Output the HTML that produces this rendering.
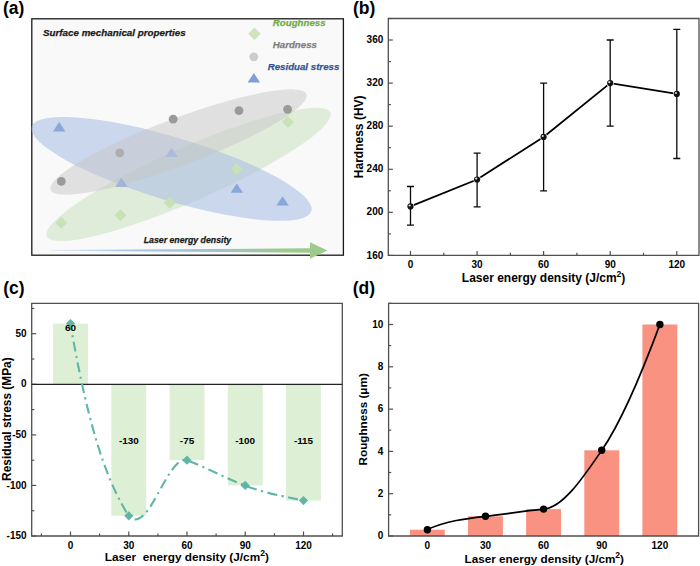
<!DOCTYPE html><html><head><meta charset="utf-8"><style>
html,body{margin:0;padding:0;background:#fff;width:700px;height:566px;overflow:hidden}
svg{display:block}
text{font-family:"Liberation Sans",sans-serif;font-weight:bold}
</style></head><body>
<svg width="700" height="566" viewBox="0 0 700 566">
<text x="3" y="14.3" font-size="17.5">(a)</text>
<text x="353" y="14.3" font-size="17.5">(b)</text>
<text x="3.2" y="294" font-size="17.5">(c)</text>
<text x="352.8" y="294" font-size="17.5">(d)</text>
<defs><linearGradient id="arrg" gradientUnits="userSpaceOnUse" x1="50" x2="327" y1="0" y2="0"><stop offset="0" stop-color="#dfe8f2"/><stop offset="0.3" stop-color="#a9c4e3"/><stop offset="0.55" stop-color="#9fc1d3"/><stop offset="0.85" stop-color="#9ccb8e"/><stop offset="1" stop-color="#9dcb8c"/></linearGradient></defs>
<rect x="31.8" y="18.8" width="311.6" height="236.4" fill="#f9f9f9" stroke="#1a1a1a" stroke-width="1.3"/>
<ellipse cx="188.5" cy="174.4" rx="154.7" ry="27" transform="rotate(-23.6 188.5 174.4)" fill="#c7dfbb" fill-opacity="0.5"/>
<ellipse cx="171.6" cy="168.9" rx="146" ry="31.6" transform="rotate(16.8 171.6 168.9)" fill="#abbfe2" fill-opacity="0.6"/>
<ellipse cx="178.5" cy="142" rx="136.6" ry="23.5" transform="rotate(-20.5 178.5 142)" fill="#c8c8c8" fill-opacity="0.5"/>
<circle cx="61.3" cy="181.4" r="4.4" fill="#9a9a9a"/>
<circle cx="119.7" cy="152.8" r="4.4" fill="#b0aeaa"/>
<circle cx="173.2" cy="119.2" r="4.4" fill="#9a9a9a"/>
<circle cx="239" cy="110.6" r="4.4" fill="#9a9a9a"/>
<circle cx="287.6" cy="109.3" r="4.4" fill="#9a9a9a"/>
<path d="M61.3,216.8 L67.3,222.8 L61.3,228.8 L55.3,222.8 Z" fill="#c8e1b7"/>
<path d="M120.5,209.2 L126.5,215.2 L120.5,221.2 L114.5,215.2 Z" fill="#c8e1b7"/>
<path d="M169.7,196.7 L175.7,202.7 L169.7,208.7 L163.7,202.7 Z" fill="#c8e1b7"/>
<path d="M236.7,163 L242.7,169 L236.7,175 L230.7,169 Z" fill="#c8e1b7"/>
<path d="M287.9,116 L293.9,122 L287.9,128 L281.9,122 Z" fill="#c8e1b7"/>
<path d="M53.0,131.5 L65.4,131.5 L59.2,122.1 Z" fill="#8aa6da"/>
<path d="M115.2,186.9 L127.6,186.9 L121.4,177.5 Z" fill="#a3b4d8"/>
<path d="M165.4,157.1 L177.8,157.1 L171.6,147.7 Z" fill="#aebcdc"/>
<path d="M230.6,192.8 L243.0,192.8 L236.8,183.4 Z" fill="#8aa6da"/>
<path d="M276.4,205.6 L288.8,205.6 L282.6,196.2 Z" fill="#8aa6da"/>
<path d="M254.5,27.599999999999998 L260.7,33.8 L254.5,40.0 L248.3,33.8 Z" fill="#cde4bf"/>
<circle cx="253.8" cy="56.8" r="4.4" fill="#cccccc"/>
<path d="M247.6,82.5 L260.1,82.5 L253.8,73.0 Z" fill="#7f9fd6"/>
<text x="43" y="36.4" font-size="9.8" font-style="italic" fill="#1a1a1a" stroke="#1a1a1a" stroke-width="0.25">Surface mechanical properties</text>
<text x="272.8" y="25.8" font-size="9.7" font-style="italic" fill="#70ad47" stroke="#70ad47" stroke-width="0.25">Roughness</text>
<text x="272.8" y="48.2" font-size="9.7" font-style="italic" fill="#7f7f7f" stroke="#7f7f7f" stroke-width="0.25">Hardness</text>
<text x="267.7" y="70.2" font-size="9.7" font-style="italic" fill="#2f5597" stroke="#2f5597" stroke-width="0.25">Residual stress</text>
<text x="143.7" y="242.6" font-size="8.75" font-style="italic" fill="#1a1a1a" stroke="#1a1a1a" stroke-width="0.25">Laser energy density</text>
<path d="M50,249.9 L50,250.7 L310,252.7 L310,258.7 L327.5,250.5 L310,242.3 L310,248.3 Z" fill="url(#arrg)"/>
<path d="M388.3,18.5 H699.0 V255.4 H388.3 Z" fill="none" stroke="#505050" stroke-width="1.3"/>
<path d="M410.5,255.4 v-4.5" stroke="#505050" stroke-width="1.2"/>
<text x="410.5" y="268.2" font-size="10" text-anchor="middle">0</text>
<path d="M477.1,255.4 v-4.5" stroke="#505050" stroke-width="1.2"/>
<text x="477.1" y="268.2" font-size="10" text-anchor="middle">30</text>
<path d="M543.6,255.4 v-4.5" stroke="#505050" stroke-width="1.2"/>
<text x="543.6" y="268.2" font-size="10" text-anchor="middle">60</text>
<path d="M610.2,255.4 v-4.5" stroke="#505050" stroke-width="1.2"/>
<text x="610.2" y="268.2" font-size="10" text-anchor="middle">90</text>
<path d="M676.8,255.4 v-4.5" stroke="#505050" stroke-width="1.2"/>
<text x="676.8" y="268.2" font-size="10" text-anchor="middle">120</text>
<path d="M443.8,255.4 v-2.6" stroke="#505050" stroke-width="1.2"/>
<path d="M510.4,255.4 v-2.6" stroke="#505050" stroke-width="1.2"/>
<path d="M576.9,255.4 v-2.6" stroke="#505050" stroke-width="1.2"/>
<path d="M643.5,255.4 v-2.6" stroke="#505050" stroke-width="1.2"/>
<path d="M388.3,255.4 h4.5" stroke="#505050" stroke-width="1.2"/>
<text x="383.3" y="258.5" font-size="10" text-anchor="end">160</text>
<path d="M388.3,212.3 h4.5" stroke="#505050" stroke-width="1.2"/>
<text x="383.3" y="215.4" font-size="10" text-anchor="end">200</text>
<path d="M388.3,169.3 h4.5" stroke="#505050" stroke-width="1.2"/>
<text x="383.3" y="172.4" font-size="10" text-anchor="end">240</text>
<path d="M388.3,126.2 h4.5" stroke="#505050" stroke-width="1.2"/>
<text x="383.3" y="129.3" font-size="10" text-anchor="end">280</text>
<path d="M388.3,83.1 h4.5" stroke="#505050" stroke-width="1.2"/>
<text x="383.3" y="86.2" font-size="10" text-anchor="end">320</text>
<path d="M388.3,40.0 h4.5" stroke="#505050" stroke-width="1.2"/>
<text x="383.3" y="43.1" font-size="10" text-anchor="end">360</text>
<path d="M388.3,233.9 h2.6" stroke="#505050" stroke-width="1.2"/>
<path d="M388.3,190.8 h2.6" stroke="#505050" stroke-width="1.2"/>
<path d="M388.3,147.7 h2.6" stroke="#505050" stroke-width="1.2"/>
<path d="M388.3,104.6 h2.6" stroke="#505050" stroke-width="1.2"/>
<path d="M388.3,61.6 h2.6" stroke="#505050" stroke-width="1.2"/>
<path d="M388.3,18.5 h2.6" stroke="#505050" stroke-width="1.2"/>
<polyline points="410.5,206.4 477.1,179.5 543.6,136.9 610.2,83.1 676.8,93.9" fill="none" stroke="#000" stroke-width="1.8"/>
<circle cx="410.5" cy="206.4" r="3.7" fill="#fff"/>
<circle cx="477.1" cy="179.5" r="3.7" fill="#fff"/>
<circle cx="543.6" cy="136.9" r="3.7" fill="#fff"/>
<circle cx="610.2" cy="83.1" r="3.7" fill="#fff"/>
<circle cx="676.8" cy="93.9" r="3.7" fill="#fff"/>
<path d="M410.5,225.2 V186.5 M407.0,225.2 h7 M407.0,186.5 h7" stroke="#0a0a0a" stroke-width="1.3" fill="none"/>
<path d="M477.1,206.9 V153.1 M473.6,206.9 h7 M473.6,153.1 h7" stroke="#0a0a0a" stroke-width="1.3" fill="none"/>
<path d="M543.6,190.8 V83.1 M540.1,190.8 h7 M540.1,83.1 h7" stroke="#0a0a0a" stroke-width="1.3" fill="none"/>
<path d="M610.2,126.2 V40.0 M606.7,126.2 h7 M606.7,40.0 h7" stroke="#0a0a0a" stroke-width="1.3" fill="none"/>
<path d="M676.8,158.5 V29.3 M673.3,158.5 h7 M673.3,29.3 h7" stroke="#0a0a0a" stroke-width="1.3" fill="none"/>
<circle cx="410.5" cy="206.4" r="3.1" fill="#111"/><circle cx="409.6" cy="205.5" r="1.1" fill="#ddd"/>
<circle cx="477.1" cy="179.5" r="3.1" fill="#111"/><circle cx="476.2" cy="178.6" r="1.1" fill="#ddd"/>
<circle cx="543.6" cy="136.9" r="3.1" fill="#111"/><circle cx="542.8" cy="136.0" r="1.1" fill="#ddd"/>
<circle cx="610.2" cy="83.1" r="3.1" fill="#111"/><circle cx="609.3" cy="82.2" r="1.1" fill="#ddd"/>
<circle cx="676.8" cy="93.9" r="3.1" fill="#111"/><circle cx="675.9" cy="93.0" r="1.1" fill="#ddd"/>
<text x="543.6" y="282.4" font-size="12" text-anchor="middle">Laser energy density (J/cm<tspan font-size="8.6" dy="-5.3">2</tspan><tspan dy="5.3">)</tspan></text>
<text transform="translate(362.5,136.8) rotate(-90)" font-size="12" text-anchor="middle">Hardness (HV)</text>
<path d="M31.7,303.4 H342.3 V536.0 H31.7 Z" fill="none" stroke="#505050" stroke-width="1.3"/>
<rect x="53.1" y="323.6" width="34.9" height="60.7" fill="#ddf0d5"/>
<rect x="111.3" y="384.3" width="34.9" height="131.5" fill="#ddf0d5"/>
<rect x="169.6" y="384.3" width="34.9" height="75.8" fill="#ddf0d5"/>
<rect x="227.8" y="384.3" width="34.9" height="101.1" fill="#ddf0d5"/>
<rect x="286.0" y="384.3" width="34.9" height="116.3" fill="#ddf0d5"/>
<path d="M70.5,536.0 v-4.5" stroke="#505050" stroke-width="1.2"/>
<text x="70.5" y="548.6" font-size="10" text-anchor="middle">0</text>
<path d="M128.8,536.0 v-4.5" stroke="#505050" stroke-width="1.2"/>
<text x="128.8" y="548.6" font-size="10" text-anchor="middle">30</text>
<path d="M187.0,536.0 v-4.5" stroke="#505050" stroke-width="1.2"/>
<text x="187.0" y="548.6" font-size="10" text-anchor="middle">60</text>
<path d="M245.2,536.0 v-4.5" stroke="#505050" stroke-width="1.2"/>
<text x="245.2" y="548.6" font-size="10" text-anchor="middle">90</text>
<path d="M303.5,536.0 v-4.5" stroke="#505050" stroke-width="1.2"/>
<text x="303.5" y="548.6" font-size="10" text-anchor="middle">120</text>
<path d="M41.4,536.0 v-2.6" stroke="#505050" stroke-width="1.2"/>
<path d="M99.6,536.0 v-2.6" stroke="#505050" stroke-width="1.2"/>
<path d="M157.9,536.0 v-2.6" stroke="#505050" stroke-width="1.2"/>
<path d="M216.1,536.0 v-2.6" stroke="#505050" stroke-width="1.2"/>
<path d="M274.4,536.0 v-2.6" stroke="#505050" stroke-width="1.2"/>
<path d="M332.6,536.0 v-2.6" stroke="#505050" stroke-width="1.2"/>
<path d="M31.7,536.0 h4.5" stroke="#505050" stroke-width="1.2"/>
<text x="26.6" y="539.1" font-size="10" text-anchor="end">-150</text>
<path d="M31.7,485.4 h4.5" stroke="#505050" stroke-width="1.2"/>
<text x="26.6" y="488.5" font-size="10" text-anchor="end">-100</text>
<path d="M31.7,434.9 h4.5" stroke="#505050" stroke-width="1.2"/>
<text x="26.6" y="438.0" font-size="10" text-anchor="end">-50</text>
<path d="M31.7,384.3 h4.5" stroke="#505050" stroke-width="1.2"/>
<text x="26.6" y="387.4" font-size="10" text-anchor="end">0</text>
<path d="M31.7,333.7 h4.5" stroke="#505050" stroke-width="1.2"/>
<text x="26.6" y="336.8" font-size="10" text-anchor="end">50</text>
<path d="M31.7,510.7 h2.6" stroke="#505050" stroke-width="1.2"/>
<path d="M31.7,460.2 h2.6" stroke="#505050" stroke-width="1.2"/>
<path d="M31.7,409.6 h2.6" stroke="#505050" stroke-width="1.2"/>
<path d="M31.7,359.0 h2.6" stroke="#505050" stroke-width="1.2"/>
<path d="M31.7,308.5 h2.6" stroke="#505050" stroke-width="1.2"/>
<path d="M31.7,384.3 H342.3" stroke="#222" stroke-width="1.3"/>
<path d="M70.4,323.6 C89.8,437.1 109.2,484.6 128.6,515.8 C148.0,537.7 167.4,454.4 186.8,460.2 C206.2,467.5 225.6,478.1 245.0,485.6 C264.4,493.1 283.8,496.1 303.2,500.6" fill="none" stroke="#5fb6a6" stroke-width="2.1" stroke-dasharray="10 4.5 2.2 4.5" stroke-dashoffset="3"/>
<path d="M70.5,319.0 l4.6,4.6 l-4.6,4.6 l-4.6,-4.6 Z" fill="#5fb6a6"/>
<path d="M128.8,511.2 l4.6,4.6 l-4.6,4.6 l-4.6,-4.6 Z" fill="#5fb6a6"/>
<path d="M187.0,455.6 l4.6,4.6 l-4.6,4.6 l-4.6,-4.6 Z" fill="#5fb6a6"/>
<path d="M245.2,480.8 l4.6,4.6 l-4.6,4.6 l-4.6,-4.6 Z" fill="#5fb6a6"/>
<path d="M303.5,496.0 l4.6,4.6 l-4.6,4.6 l-4.6,-4.6 Z" fill="#5fb6a6"/>
<text x="70.5" y="331" font-size="9.9" text-anchor="middle">60</text>
<text x="128.8" y="444.3" font-size="9.9" text-anchor="middle">-130</text>
<text x="187.0" y="444.3" font-size="9.9" text-anchor="middle">-75</text>
<text x="245.2" y="444.3" font-size="9.9" text-anchor="middle">-100</text>
<text x="303.5" y="444.3" font-size="9.9" text-anchor="middle">-115</text>
<text x="186.8" y="561.3" font-size="11.8" text-anchor="middle" xml:space="preserve">Laser  energy density (J/cm<tspan font-size="8.6" dy="-5.3">2</tspan><tspan dy="5.3">)</tspan></text>
<text transform="translate(10.6,419.1) rotate(-90)" font-size="11.9" text-anchor="middle">Residual stress (MPa)</text>
<rect x="409.9" y="529.7" width="34.9" height="6.3" fill="#fa9282"/>
<rect x="468.0" y="516.3" width="34.9" height="19.7" fill="#fa9282"/>
<rect x="526.1" y="509.1" width="34.9" height="26.9" fill="#fa9282"/>
<rect x="584.3" y="450.3" width="34.9" height="85.7" fill="#fa9282"/>
<rect x="642.4" y="324.5" width="34.9" height="211.5" fill="#fa9282"/>
<path d="M388.6,303.3 H698.6 V536.0 H388.6 Z" fill="none" stroke="#505050" stroke-width="1.3"/>
<text x="427.4" y="548.6" font-size="10" text-anchor="middle">0</text>
<text x="485.5" y="548.6" font-size="10" text-anchor="middle">30</text>
<text x="543.6" y="548.6" font-size="10" text-anchor="middle">60</text>
<text x="601.7" y="548.6" font-size="10" text-anchor="middle">90</text>
<text x="659.9" y="548.6" font-size="10" text-anchor="middle">120</text>
<path d="M388.6,536.0 h4.5" stroke="#505050" stroke-width="1.2"/>
<text x="383.4" y="539.1" font-size="10" text-anchor="end">0</text>
<path d="M388.6,493.7 h4.5" stroke="#505050" stroke-width="1.2"/>
<text x="383.4" y="496.8" font-size="10" text-anchor="end">2</text>
<path d="M388.6,451.4 h4.5" stroke="#505050" stroke-width="1.2"/>
<text x="383.4" y="454.5" font-size="10" text-anchor="end">4</text>
<path d="M388.6,409.1 h4.5" stroke="#505050" stroke-width="1.2"/>
<text x="383.4" y="412.2" font-size="10" text-anchor="end">6</text>
<path d="M388.6,366.8 h4.5" stroke="#505050" stroke-width="1.2"/>
<text x="383.4" y="369.9" font-size="10" text-anchor="end">8</text>
<path d="M388.6,324.5 h4.5" stroke="#505050" stroke-width="1.2"/>
<text x="383.4" y="327.6" font-size="10" text-anchor="end">10</text>
<path d="M388.6,514.8 h2.6" stroke="#505050" stroke-width="1.2"/>
<path d="M388.6,472.5 h2.6" stroke="#505050" stroke-width="1.2"/>
<path d="M388.6,430.2 h2.6" stroke="#505050" stroke-width="1.2"/>
<path d="M388.6,387.9 h2.6" stroke="#505050" stroke-width="1.2"/>
<path d="M388.6,345.6 h2.6" stroke="#505050" stroke-width="1.2"/>
<path d="M388.6,303.3 h2.6" stroke="#505050" stroke-width="1.2"/>
<path d="M427.2,529.6 C446.6,520.8 466.0,518.6 485.4,516.4 C504.8,514.2 524.2,510.9 543.6,509.2 C563.0,507.5 582.4,478.6 601.8,450.3 C621.2,422.0 640.6,376.4 660.0,324.1" fill="none" stroke="#000" stroke-width="1.7"/>
<circle cx="427.4" cy="529.7" r="3.7" fill="#000"/>
<circle cx="485.5" cy="516.3" r="3.7" fill="#000"/>
<circle cx="543.6" cy="509.1" r="3.7" fill="#000"/>
<circle cx="601.7" cy="450.3" r="3.7" fill="#000"/>
<circle cx="659.9" cy="324.5" r="3.7" fill="#000"/>
<text x="544.3" y="563.2" font-size="11.7" text-anchor="middle">Laser energy density (J/cm<tspan font-size="8.6" dy="-5.3">2</tspan><tspan dy="5.3">)</tspan></text>
<text transform="translate(367.4,419.3) rotate(-90)" font-size="11.7" text-anchor="middle">Roughness (μm)</text>
</svg></body></html>
